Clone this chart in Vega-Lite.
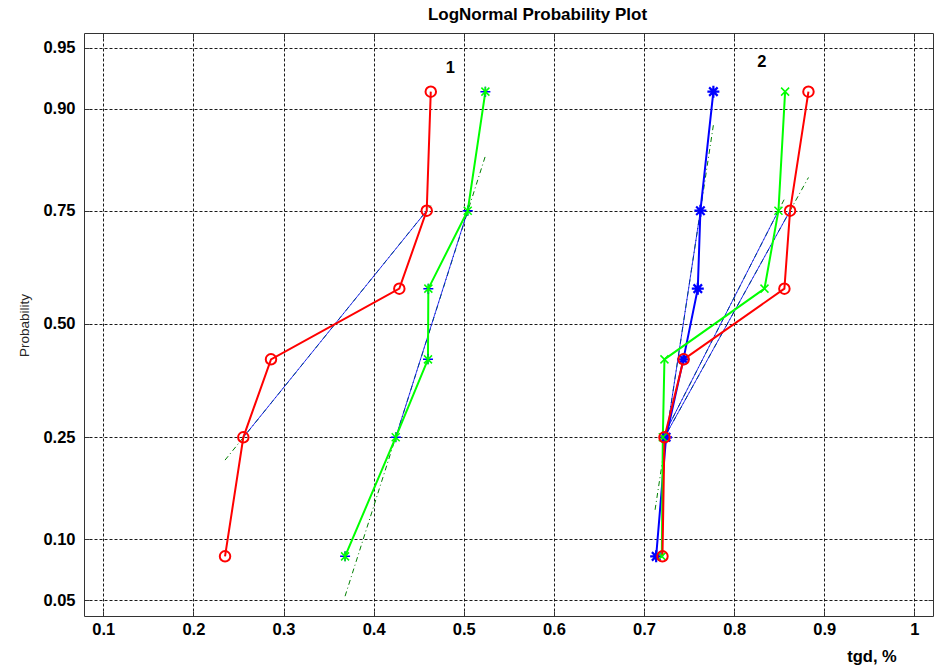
{
  "$schema": "https://vega.github.io/schema/vega-lite/v6.json",
  "width": 849,
  "height": 583,
  "autosize": "none",
  "padding": {"left": 84, "top": 33, "right": 2, "bottom": 51},
  "background": "white",
  "title": {
    "text": "LogNormal Probability Plot",
    "font": "Liberation Sans",
    "fontSize": 17,
    "fontWeight": "bold",
    "color": "#000000",
    "anchor": "middle",
    "dx": 29,
    "dy": 18,
    "offset": 14,
    "baseline": "alphabetic"
  },
  "datasets": {
    "pts": [
      {"series": "1-green", "tgd": 0.3683, "z": -1.383},
      {"series": "1-green", "tgd": 0.4245, "z": -0.6745},
      {"series": "1-green", "tgd": 0.4603, "z": -0.2104},
      {"series": "1-green", "tgd": 0.4607, "z": 0.2104},
      {"series": "1-green", "tgd": 0.5044, "z": 0.6745},
      {"series": "1-green", "tgd": 0.524, "z": 1.383},
      {"series": "1-red", "tgd": 0.2351, "z": -1.383},
      {"series": "1-red", "tgd": 0.2554, "z": -0.6745},
      {"series": "1-red", "tgd": 0.2861, "z": -0.2104},
      {"series": "1-red", "tgd": 0.4285, "z": 0.2104},
      {"series": "1-red", "tgd": 0.4589, "z": 0.6745},
      {"series": "1-red", "tgd": 0.4634, "z": 1.383},
      {"series": "2-blue", "tgd": 0.7135, "z": -1.383},
      {"series": "2-blue", "tgd": 0.7245, "z": -0.6745},
      {"series": "2-blue", "tgd": 0.7437, "z": -0.2104},
      {"series": "2-blue", "tgd": 0.7597, "z": 0.2104},
      {"series": "2-blue", "tgd": 0.7626, "z": 0.6745},
      {"series": "2-blue", "tgd": 0.777, "z": 1.383},
      {"series": "2-green", "tgd": 0.7198, "z": -1.383},
      {"series": "2-green", "tgd": 0.7209, "z": -0.6745},
      {"series": "2-green", "tgd": 0.7227, "z": -0.2104},
      {"series": "2-green", "tgd": 0.8337, "z": 0.2104},
      {"series": "2-green", "tgd": 0.8492, "z": 0.6745},
      {"series": "2-green", "tgd": 0.8566, "z": 1.383},
      {"series": "2-red", "tgd": 0.7205, "z": -1.383},
      {"series": "2-red", "tgd": 0.7227, "z": -0.6745},
      {"series": "2-red", "tgd": 0.744, "z": -0.2104},
      {"series": "2-red", "tgd": 0.8558, "z": 0.2104},
      {"series": "2-red", "tgd": 0.8621, "z": 0.6745},
      {"series": "2-red", "tgd": 0.8825, "z": 1.383}
    ],
    "fitQuartiles": [
      {"series": "1-green", "tgd": 0.4245, "z": -0.6745},
      {"series": "1-green", "tgd": 0.5044, "z": 0.6745},
      {"series": "1-red", "tgd": 0.2554, "z": -0.6745},
      {"series": "1-red", "tgd": 0.4589, "z": 0.6745},
      {"series": "2-blue", "tgd": 0.7245, "z": -0.6745},
      {"series": "2-blue", "tgd": 0.7626, "z": 0.6745},
      {"series": "2-green", "tgd": 0.7209, "z": -0.6745},
      {"series": "2-green", "tgd": 0.8492, "z": 0.6745},
      {"series": "2-red", "tgd": 0.7227, "z": -0.6745},
      {"series": "2-red", "tgd": 0.8621, "z": 0.6745}
    ],
    "fitRange": [
      {"series": "1-green", "tgd": 0.3683, "z": -1.62},
      {"series": "1-green", "tgd": 0.524, "z": 1.0},
      {"series": "1-red", "tgd": 0.2351, "z": -0.81},
      {"series": "1-red", "tgd": 0.4634, "z": 0.705},
      {"series": "2-blue", "tgd": 0.7123, "z": -1.106},
      {"series": "2-blue", "tgd": 0.777, "z": 1.184},
      {"series": "2-green", "tgd": 0.7198, "z": -0.686},
      {"series": "2-green", "tgd": 0.8566, "z": 0.752},
      {"series": "2-red", "tgd": 0.7198, "z": -0.703},
      {"series": "2-red", "tgd": 0.8825, "z": 0.872}
    ],
    "labels": [
      {"label": "1", "tgd": 0.485, "z": 1.524},
      {"label": "2", "tgd": 0.8307, "z": 1.561}
    ]
  },
  "layer": [
    {
      "data": {"name": "fitRange"},
      "mark": {"type": "line", "color": "#008000", "strokeWidth": 1, "strokeDash": [5, 3, 1, 3]},
      "encoding": {
        "x": {
          "field": "tgd", "type": "quantitative",
          "scale": {"domain": [0.0786, 1.0207], "nice": false, "zero": false},
          "axis": {
            "orient": "bottom",
            "values": [0.1, 0.2, 0.3, 0.4, 0.5, 0.6, 0.7, 0.8, 0.9, 1],
            "format": ".1~f",
            "labelFont": "Liberation Sans", "labelFontSize": 16.5, "labelFontWeight": "bold", "labelColor": "#000000",
            "labelPadding": 10, "tickSize": -5, "tickColor": "#333333", "domain": false,
            "grid": true, "gridColor": "#1a1a1a", "gridDash": [3, 2], "gridWidth": 1, "gridOpacity": 1,
            "title": "tgd, %", "titleFont": "Liberation Sans", "titleFontSize": 16.5, "titleFontWeight": "bold", "titleColor": "#000000",
            "titleX": 787.5, "titleY": 45, "titleAlign": "center", "titleBaseline": "alphabetic"
          }
        },
        "y": {
          "field": "z", "type": "quantitative",
          "scale": {"domain": [-1.738, 1.732], "nice": false, "zero": false},
          "axis": {
            "orient": "left",
            "values": [-1.6449, -1.2816, -0.6745, 0, 0.6745, 1.2816, 1.6449],
            "labelExpr": "format(cumulativeNormal(datum.value), '.2f')",
            "labelFont": "Liberation Sans", "labelFontSize": 16.5, "labelFontWeight": "bold", "labelColor": "#000000",
            "labelPadding": 14, "tickSize": -5, "tickColor": "#333333", "domain": false,
            "grid": true, "gridColor": "#1a1a1a", "gridDash": [3, 2], "gridWidth": 1, "gridOpacity": 1,
            "title": "Probability", "titleFont": "Liberation Sans", "titleFontSize": 13.5, "titleFontWeight": "normal", "titleColor": "#262626",
            "titleX": -55.5, "titleY": 292, "titleAngle": -90, "titleAlign": "center", "titleBaseline": "alphabetic"
          }
        },
        "detail": {"field": "series"},
        "order": {"field": "z", "type": "quantitative"}
      }
    },
    {
      "data": {"name": "fitQuartiles"},
      "mark": {"type": "line", "color": "#0000ff", "strokeWidth": 0.8},
      "encoding": {
        "x": {"field": "tgd", "type": "quantitative", "axis": null},
        "y": {"field": "z", "type": "quantitative", "axis": null},
        "detail": {"field": "series"},
        "order": {"field": "z", "type": "quantitative"}
      }
    },
    {
      "data": {"name": "pts"},
      "mark": {"type": "line", "strokeWidth": 2},
      "encoding": {
        "x": {"field": "tgd", "type": "quantitative", "axis": null},
        "y": {"field": "z", "type": "quantitative", "axis": null},
        "color": {
          "field": "series", "type": "nominal", "legend": null,
          "scale": {"domain": ["1-green", "1-red", "2-blue", "2-green", "2-red"], "range": ["#00ff00", "#ff0000", "#0000ff", "#00ff00", "#ff0000"]}
        },
        "order": {"field": "z", "type": "quantitative"}
      }
    },
    {
      "data": {"name": "pts"},
      "transform": [{"filter": "datum.series === '1-green'"}],
      "mark": {"type": "point", "filled": false, "shape": "M-1,0L1,0M0,-1L0,1", "size": 100, "strokeWidth": 1.5, "color": "#0000ff", "opacity": 1},
      "encoding": {
        "x": {"field": "tgd", "type": "quantitative", "axis": null},
        "y": {"field": "z", "type": "quantitative", "axis": null}
      }
    },
    {
      "data": {"name": "pts"},
      "mark": {"type": "point", "filled": false, "opacity": 1},
      "encoding": {
        "x": {"field": "tgd", "type": "quantitative", "axis": null},
        "y": {"field": "z", "type": "quantitative", "axis": null},
        "color": {
          "field": "series", "type": "nominal", "legend": null,
          "scale": {"domain": ["1-green", "1-red", "2-blue", "2-green", "2-red"], "range": ["#00ff00", "#ff0000", "#0000ff", "#00ff00", "#ff0000"]}
        },
        "shape": {
          "field": "series", "type": "nominal", "legend": null,
          "scale": {"domain": ["1-green", "1-red", "2-blue", "2-green", "2-red"],
            "range": ["M-1,-1L1,1M-1,1L1,-1M0,-1.2L0,1.2", "circle", "M-1.2,0L1.2,0M0,-1.2L0,1.2M-0.85,-0.85L0.85,0.85M-0.85,0.85L0.85,-0.85", "M-1,-1L1,1M-1,1L1,-1", "circle"]}
        },
        "size": {
          "field": "series", "type": "nominal", "legend": null,
          "scale": {"type": "ordinal", "domain": ["1-green", "1-red", "2-blue", "2-green", "2-red"], "range": [64, 110, 100, 64, 110]}
        },
        "strokeWidth": {
          "field": "series", "type": "nominal", "legend": null,
          "scale": {"type": "ordinal", "domain": ["1-green", "1-red", "2-blue", "2-green", "2-red"], "range": [1.5, 2, 2.2, 1.5, 2]}
        }
      }
    },
    {
      "data": {"name": "labels"},
      "mark": {"type": "text", "font": "Liberation Sans", "fontSize": 16.5, "fontWeight": "bold", "color": "#000000", "align": "center", "baseline": "middle"},
      "encoding": {
        "x": {
          "field": "tgd", "type": "quantitative",
          "axis": {"orient": "top", "values": [0.1, 0.2, 0.3, 0.4, 0.5, 0.6, 0.7, 0.8, 0.9, 1], "labels": false, "grid": false, "domain": false, "tickSize": -5, "tickColor": "#333333", "title": null}
        },
        "y": {
          "field": "z", "type": "quantitative",
          "axis": {"orient": "right", "values": [-1.6449, -1.2816, -0.6745, 0, 0.6745, 1.2816, 1.6449], "labels": false, "grid": false, "domain": false, "tickSize": -5, "tickColor": "#333333", "title": null}
        },
        "text": {"field": "label", "type": "nominal"}
      }
    }
  ],
  "resolve": {"axis": {"x": "independent", "y": "independent"}},
  "config": {
    "view": {"stroke": "#333333", "strokeWidth": 1},
    "font": "Liberation Sans"
  }
}
